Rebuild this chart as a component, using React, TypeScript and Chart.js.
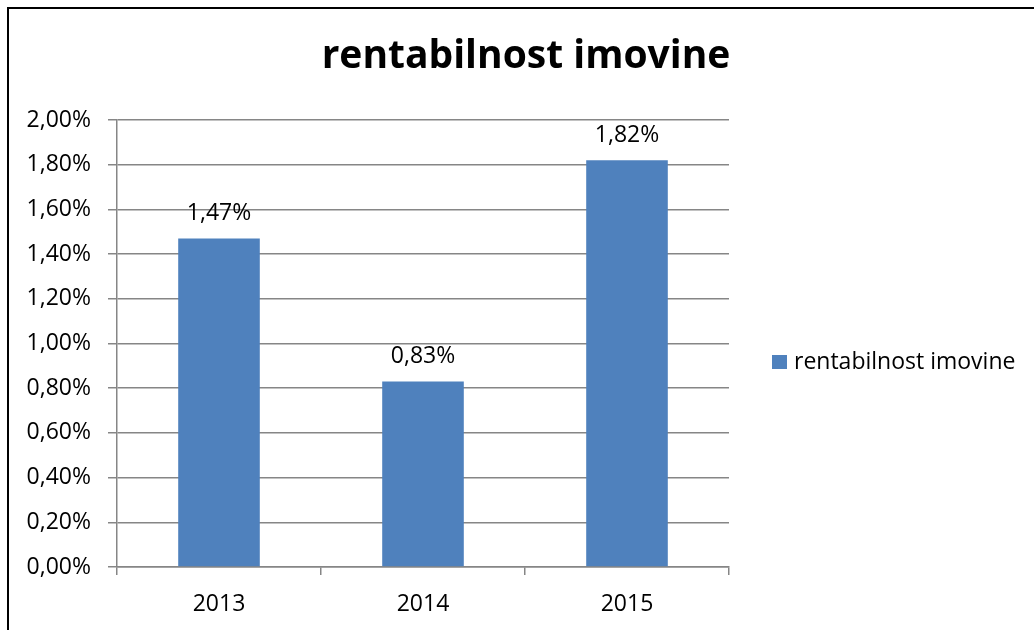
import React, { useEffect, useRef } from "react";
import { Chart, registerables } from "chart.js";

Chart.register(...registerables);

const TITLE = "rentabilnost imovine";
const SERIES_LABEL = "rentabilnost imovine";
const CATEGORIES = ["2013", "2014", "2015"];
const VALUES = [1.47, 0.83, 1.82];
const Y_MIN = 0;
const Y_MAX = 2;
const Y_STEP = 0.2;

const BAR_COLOR = "#4F81BD";
const GRID_COLOR = "#868686";
const FONT = "'Open Sans', 'Noto Sans', sans-serif";

const fmt = (v: number) => v.toFixed(2).replace(".", ",") + "%";

export default function App() {
  const ref = useRef<HTMLCanvasElement | null>(null);

  useEffect(() => {
    if (!ref.current) return;

    const extras = {
      id: "extras",
      afterDraw(chart: any) {
        const ctx = chart.ctx;
        ctx.save();
        // title
        ctx.fillStyle = "#000";
        ctx.font = `bold 39px ${FONT}`;
        ctx.textAlign = "center";
        ctx.textBaseline = "alphabetic";
        ctx.fillText(TITLE, 526, 68);
        // data labels
        ctx.font = `23px ${FONT}`;
        const meta = chart.getDatasetMeta(0);
        meta.data.forEach((bar: any, i: number) => {
          ctx.fillText(fmt(chart.data.datasets[0].data[i]), bar.x, bar.y - 18);
        });
        // legend
        const ca = chart.chartArea;
        ctx.fillStyle = BAR_COLOR;
        ctx.fillRect(ca.right + 43, 355, 15, 14);
        ctx.fillStyle = "#000";
        ctx.textAlign = "left";
        ctx.fillText(chart.data.datasets[0].label, ca.right + 65, 369);
        ctx.restore();
      },
    };

    const chart = new Chart(ref.current, {
      type: "bar",
      data: {
        labels: CATEGORIES,
        datasets: [
          {
            label: SERIES_LABEL,
            data: VALUES,
            backgroundColor: BAR_COLOR,
            borderWidth: 0,
            categoryPercentage: 0.4,
            barPercentage: 1,
          },
        ],
      },
      options: {
        responsive: false,
        animation: false,
        layout: { padding: { left: 0, right: 305, top: 120, bottom: 0 } },
        plugins: {
          legend: { display: false },
          title: { display: false },
          tooltip: { enabled: false },
        },
        scales: {
          x: {
            afterFit: (s: any) => {
              s.height = 63;
            },
            grid: {
              drawOnChartArea: false,
              offset: true,
              tickLength: 8,
              color: GRID_COLOR,
              lineWidth: 1.5,
            },
            border: { color: GRID_COLOR, width: 1.5 },
            ticks: {
              color: "#000",
              font: { family: FONT, size: 23 },
              padding: 16,
            },
          },
          y: {
            min: Y_MIN,
            max: Y_MAX,
            afterFit: (s: any) => {
              s.width = 117;
            },
            grid: {
              color: GRID_COLOR,
              tickLength: 9,
              lineWidth: 1.5,
            },
            border: { color: GRID_COLOR, width: 1.5 },
            ticks: {
              stepSize: Y_STEP,
              color: "#000",
              font: { family: FONT, size: 23 },
              padding: 17,
              callback: (v: any) => fmt(Number(v)),
            },
          },
        },
      },
      plugins: [extras],
    });

    return () => chart.destroy();
  }, []);

  return (
    <>
      <canvas
        ref={ref}
        width={1034}
        height={630}
        style={{ position: "fixed", left: 0, top: 0, width: 1034, height: 630 }}
      />
      <div
        style={{
          position: "fixed",
          left: 7,
          top: 7,
          width: 1027,
          height: 623,
          boxSizing: "border-box",
          borderTop: "2px solid #000",
          borderLeft: "2px solid #000",
          pointerEvents: "none",
        }}
      />
    </>
  );
}
